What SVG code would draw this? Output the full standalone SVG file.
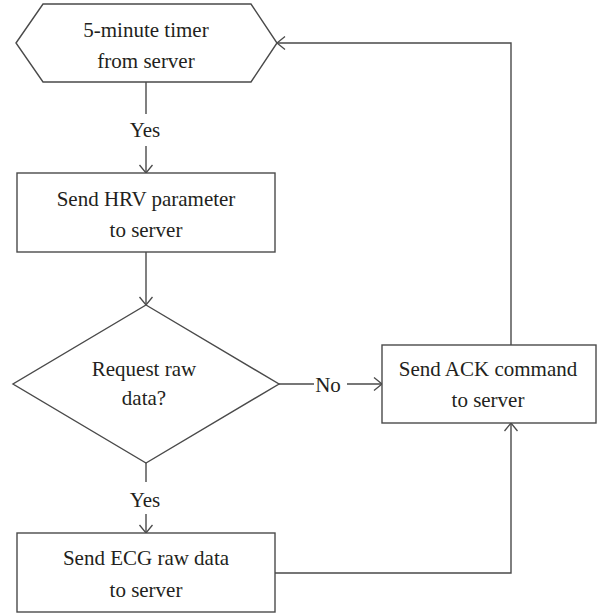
<svg xmlns="http://www.w3.org/2000/svg" width="602" height="615" viewBox="0 0 602 615">
<style>
.shape{fill:#fff;stroke:#4a4a4a;stroke-width:1.4}
.conn{fill:none;stroke:#4a4a4a;stroke-width:1.4}
text{font-family:"Liberation Serif","Times New Roman",serif;font-size:21px;fill:#231f20;text-anchor:middle}
</style>
<defs>
<marker id="arr" markerWidth="12" markerHeight="16" refX="9" refY="7" orient="auto" markerUnits="userSpaceOnUse">
<path d="M1,0.5 L9,7 L1,13.5" fill="none" stroke="#4a4a4a" stroke-width="1.3"/>
</marker>
</defs>
<rect width="602" height="615" fill="#fff"/>
<g id="connectors">
<line class="conn" x1="146" y1="82" x2="146" y2="114"/>
<text x="145" y="137">Yes</text>
<line class="conn" x1="146" y1="146" x2="146" y2="173" marker-end="url(#arr)"/>
<line class="conn" x1="146" y1="252" x2="146" y2="305" marker-end="url(#arr)"/>
<line class="conn" x1="279" y1="384" x2="314" y2="384"/>
<text x="328" y="392">No</text>
<line class="conn" x1="347" y1="384" x2="382" y2="384" marker-end="url(#arr)"/>
<line class="conn" x1="146" y1="463" x2="146" y2="482"/>
<text x="145" y="507">Yes</text>
<line class="conn" x1="146" y1="514" x2="146" y2="533" marker-end="url(#arr)"/>
<polyline class="conn" points="275,573 511,573 511,423" marker-end="url(#arr)"/>
<polyline class="conn" points="511,345 511,43 277,43" marker-end="url(#arr)"/>
</g>
<g id="timer">
<polygon class="shape" points="16,43 43,4 251,4 277,43 251,82 43,82"/>
<text x="146" y="37">5-minute timer</text>
<text x="146" y="68">from server</text>
</g>
<g id="send-hrv">
<rect class="shape" x="17" y="173" width="258" height="79"/>
<text x="146" y="206">Send HRV parameter</text>
<text x="146" y="237">to server</text>
</g>
<g id="request-raw">
<polygon class="shape" points="146,305 279,384 146,463 13,384"/>
<text x="144" y="376">Request raw</text>
<text x="144" y="405">data?</text>
</g>
<g id="send-ack">
<rect class="shape" x="382" y="345" width="214" height="78"/>
<text x="488" y="376">Send ACK command</text>
<text x="488" y="407">to server</text>
</g>
<g id="send-ecg">
<rect class="shape" x="17" y="533" width="258" height="79"/>
<text x="146" y="565">Send ECG raw data</text>
<text x="146" y="597">to server</text>
</g>
</svg>
